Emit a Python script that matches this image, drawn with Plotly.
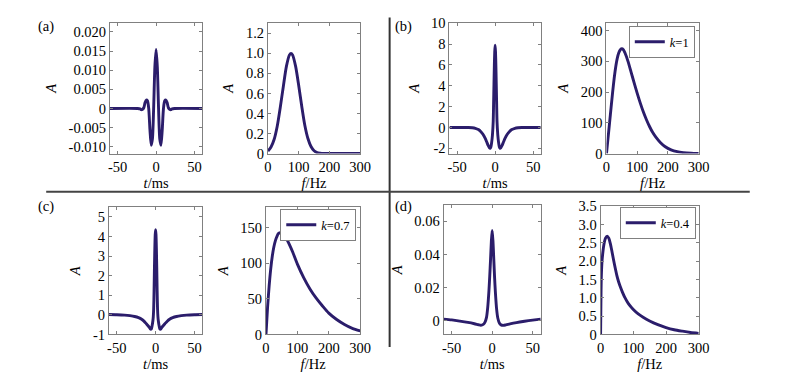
import plotly.graph_objects as go

# ---------------- data ----------------
t_a = [-60, -24, -20.8, -19.2, -17.6, -16.0, -14.4, -12.8, -11.2, -9.6, -8.0, -6.4, -4.8, -3.2, -1.6, 0,
       1.6, 3.2, 4.8, 6.4, 8.0, 9.6, 11.2, 12.8, 14.4, 16.0, 17.6, 19.2, 20.8, 24, 60]
A_a = [0, 0, -0.0001, -0.0003, -0.0002, 0.0002, 0.0015, 0.0022, 0.0020, 0.0000, -0.0055, -0.0096, -0.0080, 0.0000, 0.0108, 0.0154,
       0.0108, 0.0000, -0.0080, -0.0096, -0.0055, 0.0000, 0.0020, 0.0022, 0.0015, 0.0002, -0.0002, -0.0003, -0.0001, 0, 0]

f_a = [0, 10, 20, 30, 40, 50, 60, 70, 75, 80, 90, 100, 110, 120, 130, 140, 150, 160, 170, 180, 200, 300]
S_a = [0.025, 0.065, 0.14, 0.27, 0.46, 0.67, 0.87, 0.985, 1.0, 0.985, 0.87, 0.68, 0.47, 0.28, 0.15, 0.07, 0.028, 0.010, 0.004, 0.001, 0, 0]

t_b = [-60, -35, -30, -26, -22, -19, -16, -13, -11, -9, -7.5, -6.5, -5.5, -4.5, -3.5, -2.5, -2, -1.5, -1, -0.5, 0,
       0.5, 1, 1.5, 2, 2.5, 3.5, 4.5, 5.5, 6.5, 7.5, 9, 11, 13, 16, 19, 22, 26, 30, 35, 60]
A_b = [0, 0, -0.03, -0.08, -0.2, -0.38, -0.65, -1.05, -1.4, -1.75, -1.95, -2.0, -1.85, -1.4, -0.7, 0.6, 2.3, 4.2, 6.0, 7.3, 7.9,
       7.3, 6.0, 4.2, 2.3, 0.6, -0.7, -1.4, -1.85, -2.0, -1.95, -1.75, -1.4, -1.05, -0.65, -0.38, -0.2, -0.08, -0.03, 0, 0]

f_b = [0, 5, 10, 15, 20, 25, 30, 35, 40, 45, 50, 55, 60, 70, 80, 90, 100, 110, 120, 130, 140, 150, 160, 175, 190, 210, 230, 250, 275, 300]
S_b = [0, 50, 100, 150, 200, 245, 282, 310, 328, 338, 341, 338, 328, 300, 265, 230, 196, 164, 135, 110, 88, 69, 54, 36, 23, 12, 6, 3, 1, 0]

t_c = [-60, -50, -40, -33, -27, -22, -18, -15, -12, -10, -8, -6.5, -5.5, -4.5, -3.5, -3, -2.5, -2, -1.5, -1, -0.5, 0,
       0.5, 1, 1.5, 2, 2.5, 3, 3.5, 4.5, 5.5, 6.5, 8, 10, 12, 15, 18, 22, 27, 33, 40, 50, 60]
A_c = [0.02, 0.01, -0.01, -0.04, -0.08, -0.14, -0.22, -0.32, -0.45, -0.54, -0.64, -0.73, -0.72, -0.55, -0.3, -0.1, 0.3, 1.2, 2.4, 3.4, 4.1, 4.35,
       4.1, 3.4, 2.4, 1.2, 0.3, -0.1, -0.3, -0.55, -0.72, -0.73, -0.64, -0.54, -0.45, -0.32, -0.22, -0.14, -0.08, -0.04, -0.01, 0.01, 0.02]

f_c = [0, 5, 10, 15, 20, 25, 30, 35, 40, 47, 55, 65, 75, 85, 100, 120, 140, 160, 180, 200, 225, 250, 275, 300]
S_c = [0, 38, 68, 92, 110, 123, 132, 138, 142, 143, 141, 135, 126, 116, 99, 80, 64, 51, 40, 30, 21, 14, 8.5, 5]

t_d = [-60, -50, -40, -30, -22, -17, -14, -11, -9, -7, -5.5, -4, -3, -2, -1, 0,
       1, 2, 3, 4, 5.5, 7, 9, 11, 13.5, 17, 22, 30, 40, 50, 60]
A_d = [0.001, 0.0005, -0.0002, -0.001, -0.0018, -0.0024, -0.0027, -0.0022, -0.001, 0.002, 0.008, 0.018, 0.027, 0.037, 0.048, 0.0545,
       0.048, 0.037, 0.026, 0.017, 0.007, 0.0015, -0.0015, -0.0025, -0.0028, -0.0025, -0.0019, -0.0011, -0.0003, 0.0004, 0.001]

f_d = [0, 1, 2, 4, 7, 10, 15, 20, 25, 30, 35, 40, 45, 50, 55, 60, 67, 74, 85, 100, 115, 130, 150, 175, 200, 225, 250, 275, 300]
S_d = [0, 0.9, 1.5, 1.95, 2.25, 2.45, 2.63, 2.68, 2.63, 2.47, 2.25, 2.02, 1.8, 1.6, 1.44, 1.31, 1.15, 1.01, 0.84, 0.68, 0.56, 0.47, 0.37, 0.27, 0.19, 0.13, 0.09, 0.055, 0.03]

legend_names = ["<i>k</i>=1", "<i>k</i>=0.7", "<i>k</i>=0.4"]
panel_labels = ["(a)", "(b)", "(c)", "(d)"]

t_ticks = [-50, 0, 50]
f_ticks = [0, 100, 200, 300]
yt_a = [-0.010, -0.005, 0, 0.005, 0.010, 0.015, 0.020]
yt_a_txt = ["-0.010", "-0.005", "0", "0.005", "0.010", "0.015", "0.020"]
yf_a = [0, 0.2, 0.4, 0.6, 0.8, 1.0, 1.2]
yf_a_txt = ["0", "0.2", "0.4", "0.6", "0.8", "1.0", "1.2"]
yt_b = [-2, 0, 2, 4, 6, 8, 10]
yf_b = [0, 100, 200, 300, 400]
yt_c = [-1, 0, 1, 2, 3, 4, 5]
yf_c = [0, 50, 100, 150]
yt_d = [0, 0.02, 0.04, 0.06]
yt_d_txt = ["0", "0.02", "0.04", "0.06"]
yf_d = [0, 0.5, 1.0, 1.5, 2.0, 2.5, 3.0, 3.5]
yf_d_txt = ["0", "0.5", "1.0", "1.5", "2.0", "2.5", "3.0", "3.5"]

# ---------------- figure ----------------
W, H = 800, 376
LINE = "#2b1d6b"
FRAME = "#808080"
FONT = "Liberation Serif, Times New Roman, serif"
FS = 14.5

def px_x(v):
    return v / W

def px_y(v):
    return 1 - v / H

# plot boxes in pixels: (left, right, top, bottom)
boxes = [
    (108, 202, 16, 152), (269, 363, 16, 152),
    (454, 547, 16, 152), (614, 708, 16, 152),
    (107, 202, 208, 341), (267, 363, 208, 341),
    (448, 547, 206, 341), (608, 708, 207, 341),
]

series = [
    (t_a, A_a), (f_a, S_a), (t_b, A_b), (f_b, S_b),
    (t_c, A_c), (f_c, S_c), (t_d, A_d), (f_d, S_d),
]

yranges = [[-0.01175, 0.02225], [0, 1.3], [-2.5, 10], [0, 424],
           [-1, 5.5], [0, 179], [-0.0083, 0.0697], [0, 3.5]]
yticks = [(yt_a, yt_a_txt), (yf_a, yf_a_txt), (yt_b, None), (yf_b, None),
          (yt_c, None), (yf_c, None), (yt_d, yt_d_txt), (yf_d, yf_d_txt)]

fig = go.Figure()
legend_ids = {3: "legend", 5: "legend2", 7: "legend3"}
legend_name_of = {3: legend_names[0], 5: legend_names[1], 7: legend_names[2]}

for i, (xs, ys) in enumerate(series):
    n = i + 1
    tr = dict(x=xs, y=ys, mode="lines",
              line=dict(color=LINE, width=2.9, shape="spline", smoothing=0.7),
              xaxis=f"x{n}", yaxis=f"y{n}", showlegend=False, hoverinfo="skip")
    if i in legend_ids:
        tr["showlegend"] = True
        tr["name"] = legend_name_of[i]
        tr["legend"] = legend_ids[i]
    fig.add_trace(go.Scatter(**tr))

layout = dict(width=W, height=H, margin=dict(l=0, r=0, t=0, b=0),
              paper_bgcolor="white", plot_bgcolor="white",
              font=dict(family=FONT, size=FS, color="black"))

common = dict(showline=True, linecolor=FRAME, linewidth=1, mirror="ticks",
              ticks="inside", ticklen=3, tickcolor=FRAME, showgrid=False,
              zeroline=False, tickfont=dict(family=FONT, size=FS, color="black"))

for i, (l, r, t, b) in enumerate(boxes):
    n = i + 1
    is_time = (i % 2 == 0)
    xa = dict(common, domain=[px_x(l), px_x(r)], anchor=f"y{n}",
              range=[-60, 60] if is_time else [0, 300],
              tickvals=t_ticks if is_time else f_ticks,
              ticktext=[str(v) for v in (t_ticks if is_time else f_ticks)],
              title=dict(text="<i>t</i>/ms" if is_time else "<i>f</i>/Hz",
                         font=dict(family=FONT, size=FS), standoff=0))
    tv, tt = yticks[i]
    ya = dict(common, domain=[px_y(b), px_y(t)], anchor=f"x{n}",
              range=yranges[i], tickvals=tv,
              ticktext=tt if tt is not None else [str(v) for v in tv],
              title=dict(text="<i>A</i>", font=dict(family=FONT, size=FS), standoff=8))
    key = "" if n == 1 else str(n)
    layout[f"xaxis{key}"] = xa
    layout[f"yaxis{key}"] = ya

leg_common = dict(bgcolor="white", bordercolor=FRAME, borderwidth=1,
                  font=dict(family=FONT, size=12.5), xanchor="right", yanchor="top",
                  itemwidth=30, tracegroupgap=0)
layout["legend"] = dict(leg_common, x=px_x(704), y=px_y(19))
layout["legend2"] = dict(leg_common, x=px_x(359), y=px_y(210))
layout["legend3"] = dict(leg_common, x=px_x(705), y=px_y(208))

annotations = []
for lab, (x, y) in zip(panel_labels, [(43, 19), (407, 19), (43, 207), (407, 207)]):
    annotations.append(dict(text=lab, x=px_x(x), y=px_y(y), xref="paper", yref="paper",
                            showarrow=False, font=dict(family=FONT, size=FS),
                            xanchor="center", yanchor="middle"))
layout["annotations"] = annotations

layout["shapes"] = [
    dict(type="line", xref="paper", yref="paper", x0=px_x(393), x1=px_x(393),
         y0=px_y(10), y1=px_y(354), line=dict(color="#333333", width=2)),
    dict(type="line", xref="paper", yref="paper", x0=px_x(43), x1=px_x(760),
         y0=px_y(192), y1=px_y(192), line=dict(color="#444444", width=2)),
]

fig.update_layout(**layout)
fig.write_html("out.html",
               config={"displayModeBar": False, "staticPlot": True},
               post_script="document.body.style.margin='0px';document.body.style.overflow='hidden';")
